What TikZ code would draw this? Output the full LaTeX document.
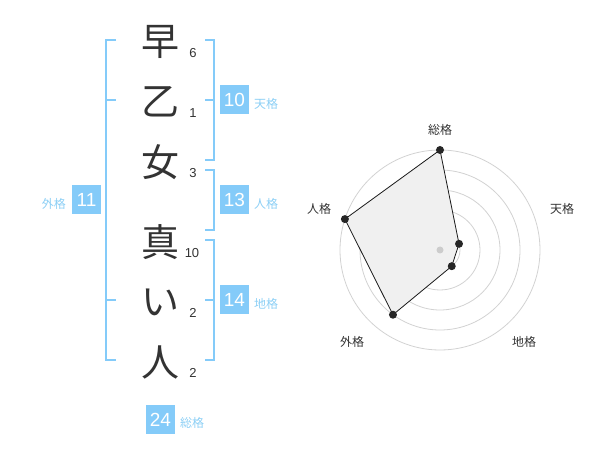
\documentclass[tikz,border=0pt]{standalone}
\usepackage{fontspec}
\setmainfont{Liberation Sans}
\newfontfamily\jp{Noto Sans CJK JP}
\definecolor{sky}{HTML}{84CBF9}
\definecolor{skytext}{HTML}{8CCFF5}
\definecolor{ink}{HTML}{333333}
\definecolor{ring}{HTML}{D2D2D2}
\begin{document}
\begin{tikzpicture}[x=1pt,y=-1pt,
  kanji/.style={text=ink,font=\jp\fontsize{38}{38}\selectfont,inner sep=0pt},
  strokes/.style={text=ink,font=\fontsize{13}{13}\selectfont,inner sep=0pt},
  valbox/.style={fill=sky,text=white,minimum width=29pt,minimum height=29pt,inner sep=0pt,font=\fontsize{19}{19}\selectfont},
  kaku/.style={text=skytext,font=\jp\fontsize{12}{12}\selectfont,inner sep=0pt},
  bracket/.style={draw=sky,line width=2pt},
  radlab/.style={text=ink,font=\jp\fontsize{12}{12}\selectfont,inner sep=0pt},
  dot/.style={circle,fill=black!85,inner sep=0pt,minimum size=8pt}]
\useasboundingbox (0,0) rectangle (600,470);
% characters
\node[kanji] (c1) at (160,42) {早};
\node[kanji] (c2) at (160,102) {乙};
\node[kanji] (c3) at (160,162) {女};
\node[kanji] (c4) at (160,242) {真};
\node[kanji] (c5) at (160,302) {い};
\node[kanji] (c6) at (160,362) {人};
% stroke counts
\node[strokes] (s1) at (193,53) {6};
\node[strokes] (s2) at (193,113) {1};
\node[strokes] (s3) at (193,173) {3};
\node[strokes] (s4) at (192,253) {10};
\node[strokes] (s5) at (193,313) {2};
\node[strokes] (s6) at (193,373) {2};
% brackets
\draw[bracket] (116,40) -- (106,40) -- (106,360) -- (116,360);
\draw[bracket] (106,100) -- (116,100);
\draw[bracket] (106,300) -- (116,300);
\draw[bracket] (205,40) -- (214,40) -- (214,160) -- (205,160);
\draw[bracket] (205,100) -- (214,100);
\draw[bracket] (205,170) -- (214,170) -- (214,230) -- (205,230);
\draw[bracket] (205,240) -- (214,240) -- (214,360) -- (205,360);
\draw[bracket] (205,300) -- (214,300);
% value boxes
\node[valbox] (ten) at (234.5,100) {10};
\node[kaku,anchor=west] (tenl) at (254,104) {天格};
\node[valbox] (jin) at (234.5,200) {13};
\node[kaku,anchor=west] (jinl) at (254,204) {人格};
\node[valbox] (chi) at (234.5,300) {14};
\node[kaku,anchor=west] (chil) at (254,304) {地格};
\node[valbox] (gai) at (86.5,200) {11};
\node[kaku,anchor=east] (gail) at (66,204) {外格};
\node[valbox] (sou) at (160.5,419.5) {24};
\node[kaku,anchor=west] (soul) at (180,423) {総格};
% radar
\begin{scope}[shift={(440,250)}]
  \foreach \r in {20,40,60,80,100} \draw[ring,line width=0.8pt] (0,0) circle[radius=\r pt];
  \fill[black!6,draw=black!90,line width=0.8pt] (90:100pt) -- (18:20pt) -- (-54:20pt) -- (-126:80pt) -- (162:100pt) -- cycle;
  \fill[black!20] (0,0) circle[radius=3.5pt];
  \node[dot] (p1) at (90:100pt) {};
  \node[dot] (p2) at (18:20pt) {};
  \node[dot] (p3) at (-54:20pt) {};
  \node[dot] (p4) at (-126:80pt) {};
  \node[dot] (p5) at (162:100pt) {};
\end{scope}
\node[radlab] (r1) at (440,130) {総格};
\node[radlab] (r2) at (562,209) {天格};
\node[radlab] (r3) at (524,342) {地格};
\node[radlab] (r4) at (352,342) {外格};
\node[radlab] (r5) at (319,209) {人格};
\end{tikzpicture}
\end{document}
